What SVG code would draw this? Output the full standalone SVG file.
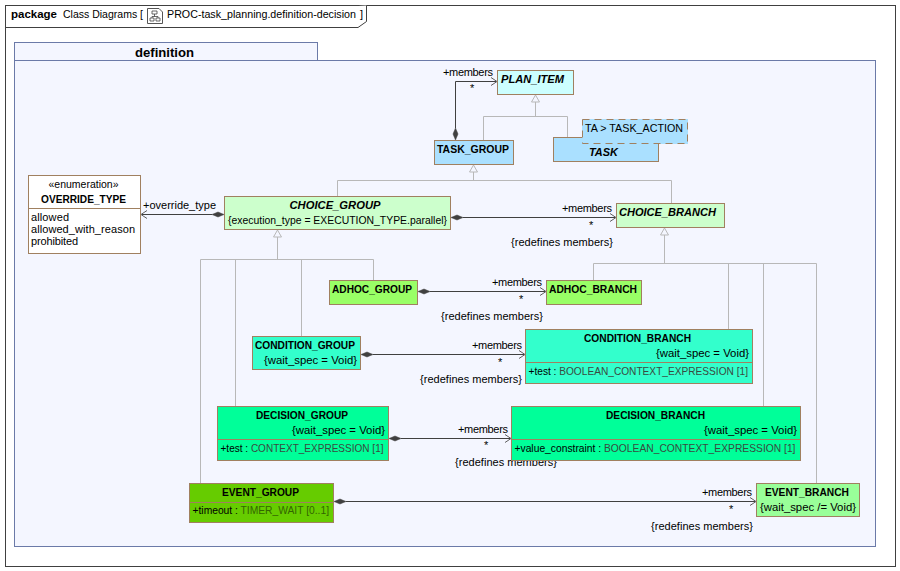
<svg xmlns="http://www.w3.org/2000/svg" width="900" height="571" viewBox="0 0 900 571">
<style>
text{font-family:"Liberation Sans",Arial,sans-serif;font-size:11px;fill:#000}
.b{font-weight:bold}
.i{font-weight:bold;font-style:italic}
.t{fill:#3a4a40}
.o{stroke:#a08060;stroke-width:1;}
.d{stroke:#a08060;stroke-width:1;fill:none}
.g{fill:none;stroke:#b8b8b8;stroke-width:1}
.h{fill:#f4f6ff;stroke:#b8b8b8;stroke-width:1}
.a{fill:none;stroke:#404040;stroke-width:1}
.p{fill:none;stroke:#606060;stroke-width:1}
.k{fill:#404040;stroke:#404040;stroke-width:.5}
</style>
<rect width="900" height="571" fill="#fff"/>
<g id="frame">
<rect x="5.5" y="5.5" width="890" height="561" fill="#fff" stroke="#404040"/>
<path d="M5.5 27.5H358L366.500 21.500V5.500" fill="#fff" stroke="#404040"/>
<text x="11" y="18" class="b" textLength="46" lengthAdjust="spacingAndGlyphs">package</text>
<text x="63" y="18" textLength="80" lengthAdjust="spacingAndGlyphs">Class Diagrams [</text>
<path d="M147.500 8.500H159L162.500 12V23.500H147.500Z" fill="#fff" stroke="#555"/>
<path d="M152 11h5v3h-5zM150 18h4v3h-4zM156 18h4v3h-4zM154.500 14v2.500M152 16.500h6v1.500M152 16.500v1.500" fill="none" stroke="#444" stroke-width=".8"/>
<text x="167" y="18" style="font-size:10.700px">PROC-task_planning.definition-decision</text>
<text x="360" y="18">]</text>
</g>
<g id="definition">
<rect x="14.500" y="42.500" width="303" height="18" fill="#f4f6ff" stroke="#6b7aa8"/>
<rect x="14.500" y="60.500" width="861" height="486" fill="#f4f6ff" stroke="#6b7aa8"/>
<text x="135" y="57" class="b" style="font-size:13px" textLength="59" lengthAdjust="spacingAndGlyphs">definition</text>
</g>
<g id="connectors">
<path class="g" d="M483.500 140V116.500H567.500V137M535.500 102V116.500"/>
<path class="h" d="M535.500 95L531.500 102H539.500Z"/>
<path class="g" d="M337.500 196V180.500H671.500V203M473.500 172V180.500"/>
<path class="h" d="M473.500 165L469.500 172H477.500Z"/>
<path class="g" d="M200.500 483V259.500H373.500V280M235.500 259.500V406M301.500 259.500V336M277.500 237V259.500"/>
<path class="h" d="M277.500 230L273.500 237H281.500Z"/>
<path class="g" d="M593.500 280V263.500H816.500V483M728.500 263.500V329M763.500 263.500V406M664.500 235V263.500"/>
<path class="h" d="M664.500 228L660.500 235H668.500Z"/>

<path class="a" d="M455.500 128V81.500H496"/><path class="p" d="M491 77.500L497 81.500L491 85.500"/>
<path class="k" d="M455.500 128L458 134L455.500 140L453 134Z"/>

<path class="a" d="M212 214.500H142"/><path class="p" d="M147 210.500L141 214.500L147 218.500"/>
<path class="k" d="M224 214.500L218 212L212 214.500L218 217Z"/>

<path class="a" d="M463 217.500H615"/><path class="p" d="M610 213.500L616 217.500L610 221.500"/>
<path class="k" d="M451 217.500L457 215L463 217.500L457 220Z"/>

<path class="a" d="M430 291.500H545"/><path class="p" d="M540 287.500L546 291.500L540 295.500"/>
<path class="k" d="M418 291.500L424 289L430 291.500L424 294Z"/>

<path class="a" d="M373 354.500H524"/><path class="p" d="M519 350.500L525 354.500L519 358.500"/>
<path class="k" d="M361 354.500L367 352L373 354.500L367 357Z"/>

<path class="a" d="M401 438.500H510"/><path class="p" d="M505 434.500L511 438.500L505 442.500"/>
<path class="k" d="M389 438.500L395 436L401 438.500L395 441Z"/>

<path class="a" d="M346 501.500H755"/><path class="p" d="M750 497.500L756 501.500L750 505.500"/>
<path class="k" d="M334 501.500L340 499L346 501.500L340 504Z"/>
</g>
<g id="labels">
<text x="443" y="76" textLength="50">+members</text><text x="470" y="92">*</text>
<text x="143" y="209" textLength="73">+override_type</text>
<text x="562" y="212" textLength="50">+members</text><text x="589" y="229">*</text><text x="511" y="246" textLength="102">{redefines members}</text>
<text x="492" y="286" textLength="50">+members</text><text x="519" y="303">*</text><text x="441" y="320" textLength="102">{redefines members}</text>
<text x="472" y="349" textLength="50">+members</text><text x="498" y="366">*</text><text x="420" y="383" textLength="102">{redefines members}</text>
<text x="458" y="433" textLength="50">+members</text><text x="484" y="449">*</text><text x="455" y="466" textLength="102">{redefines members}</text>
<text x="702" y="496" textLength="50">+members</text><text x="729" y="513">*</text><text x="651" y="530" textLength="102">{redefines members}</text>
</g>
<g id="PLAN_ITEM"><rect class="o" x="497.500" y="70.500" width="76" height="24" fill="#ccffff"/><text x="501" y="83" class="i" textLength="63" lengthAdjust="spacingAndGlyphs">PLAN_ITEM</text></g>
<g id="TASK_GROUP"><rect class="o" x="434.500" y="140.500" width="79" height="24" fill="#aae0ff"/><text x="437" y="153" class="b" textLength="72" lengthAdjust="spacingAndGlyphs">TASK_GROUP</text></g>
<g id="TASK">
<rect class="o" x="553.500" y="137.500" width="105" height="24" fill="#aae0ff"/>
<rect x="582.500" y="119.500" width="105" height="24" fill="#aae0ff" stroke="#aae0ff"/>
<rect class="d" x="582.500" y="119.500" width="105" height="24" stroke-dasharray="7 5"/>
<text x="585" y="132" textLength="98" lengthAdjust="spacingAndGlyphs">TA &gt; TASK_ACTION</text><text x="589" y="156" class="i" textLength="29" lengthAdjust="spacingAndGlyphs">TASK</text></g>
<g id="OVERRIDE_TYPE"><rect class="o" x="28.500" y="175.500" width="112" height="78" fill="#fff"/><line class="d" x1="28.500" y1="208.500" x2="140.500" y2="208.500"/>
<text x="48.500" y="188" textLength="70" lengthAdjust="spacingAndGlyphs">«enumeration»</text><text x="41" y="203" class="b" textLength="85" lengthAdjust="spacingAndGlyphs">OVERRIDE_TYPE</text><text x="31" y="221" textLength="38">allowed</text><text x="31" y="233" textLength="104">allowed_with_reason</text><text x="31" y="245" textLength="47">prohibited</text></g>
<g id="CHOICE_GROUP"><rect class="o" x="224.500" y="196.500" width="226" height="33" fill="#ccffcc"/><text x="289.500" y="209" class="i" textLength="91" lengthAdjust="spacingAndGlyphs">CHOICE_GROUP</text><text x="228" y="224" textLength="219" lengthAdjust="spacingAndGlyphs">{execution_type = EXECUTION_TYPE.parallel}</text></g>
<g id="CHOICE_BRANCH"><rect class="o" x="616.500" y="203.500" width="108" height="24" fill="#ccffcc"/><text x="619" y="216" class="i" textLength="97" lengthAdjust="spacingAndGlyphs">CHOICE_BRANCH</text></g>
<g id="ADHOC_GROUP"><rect class="o" x="329.500" y="280.500" width="88" height="24" fill="#99ff66"/><text x="332" y="293" class="b" textLength="80" lengthAdjust="spacingAndGlyphs">ADHOC_GROUP</text></g>
<g id="ADHOC_BRANCH"><rect class="o" x="546.500" y="280.500" width="95" height="24" fill="#99ff66"/><text x="549" y="293" class="b" textLength="88" lengthAdjust="spacingAndGlyphs">ADHOC_BRANCH</text></g>
<g id="CONDITION_GROUP"><rect class="o" x="252.500" y="336.500" width="108" height="33" fill="#33ffcc"/><text x="255" y="349" class="b" textLength="100" lengthAdjust="spacingAndGlyphs">CONDITION_GROUP</text><text x="264" y="364" textLength="93" lengthAdjust="spacingAndGlyphs">{wait_spec = Void}</text></g>
<g id="CONDITION_BRANCH"><rect class="o" x="525.500" y="329.500" width="227" height="54" fill="#33ffcc"/><line class="d" x1="525.500" y1="362.500" x2="752.500" y2="362.500"/><text x="584" y="342" class="b" textLength="107" lengthAdjust="spacingAndGlyphs">CONDITION_BRANCH</text><text x="656" y="357" textLength="93" lengthAdjust="spacingAndGlyphs">{wait_spec = Void}</text><text x="528.500" y="375" textLength="219.500" lengthAdjust="spacingAndGlyphs">+test : <tspan class="t">BOOLEAN_CONTEXT_EXPRESSION [1]</tspan></text></g>
<g id="DECISION_GROUP"><rect class="o" x="217.500" y="406.500" width="171" height="54" fill="#00ff99"/><line class="d" x1="217.500" y1="439.500" x2="388.500" y2="439.500"/><text x="256" y="419" class="b" textLength="92" lengthAdjust="spacingAndGlyphs">DECISION_GROUP</text><text x="292" y="434" textLength="93" lengthAdjust="spacingAndGlyphs">{wait_spec = Void}</text><text x="220.500" y="452" textLength="163" lengthAdjust="spacingAndGlyphs">+test : <tspan class="t">CONTEXT_EXPRESSION [1]</tspan></text></g>
<g id="DECISION_BRANCH"><rect class="o" x="511.500" y="406.500" width="289" height="54" fill="#00ff99"/><line class="d" x1="511.500" y1="439.500" x2="800.500" y2="439.500"/><text x="606" y="419" class="b" textLength="99" lengthAdjust="spacingAndGlyphs">DECISION_BRANCH</text><text x="704" y="434" textLength="93" lengthAdjust="spacingAndGlyphs">{wait_spec = Void}</text><text x="514.500" y="452" textLength="281" lengthAdjust="spacingAndGlyphs">+value_constraint : <tspan class="t">BOOLEAN_CONTEXT_EXPRESSION [1]</tspan></text></g>
<g id="EVENT_GROUP"><rect class="o" x="189.500" y="483.500" width="144" height="39" fill="#66cc00"/><line class="d" x1="189.500" y1="502.500" x2="333.500" y2="502.500"/><text x="222" y="496" class="b" textLength="77" lengthAdjust="spacingAndGlyphs">EVENT_GROUP</text><text x="192.500" y="514" textLength="136.500" lengthAdjust="spacingAndGlyphs">+timeout : <tspan fill="#336600">TIMER_WAIT [0..1]</tspan></text></g>
<g id="EVENT_BRANCH"><rect class="o" x="756.500" y="483.500" width="103" height="33" fill="#99ff99"/><text x="765" y="496" class="b" textLength="84" lengthAdjust="spacingAndGlyphs">EVENT_BRANCH</text><text x="760" y="511" textLength="96" lengthAdjust="spacingAndGlyphs">{wait_spec /= Void}</text></g>
</svg>
